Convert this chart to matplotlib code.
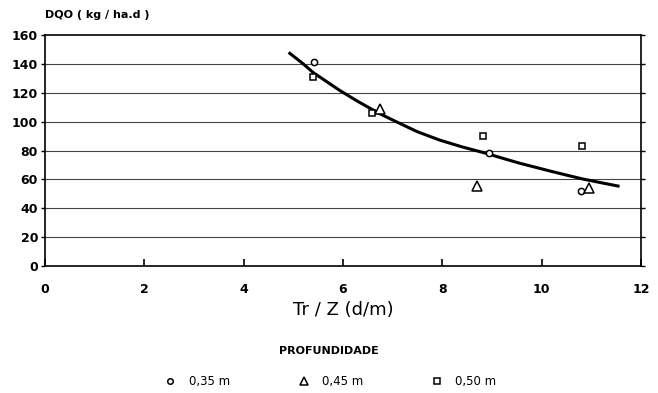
import matplotlib
matplotlib.use("Agg")
import matplotlib.pyplot as plt
from matplotlib.lines import Line2D

# Data
x_035 = [5.42, 8.94, 10.79]
y_035 = [141, 78, 52]
x_045 = [6.75, 8.70, 10.95]
y_045 = [109, 55.5, 54]
x_050 = [5.40, 6.58, 8.82, 10.81]
y_050 = [131, 106, 90, 83]

curve_x = [4.93, 5.20, 5.40, 5.94, 6.30, 6.74, 7.10, 7.50, 7.95, 8.40,
           8.89, 9.20, 9.56, 10.17, 10.50, 10.84, 11.20, 11.54]
curve_y = [147.3, 140.0, 134.0, 121.5, 114.0, 105.5, 99.5, 93.0, 87.2, 82.5,
           78.0, 74.8, 71.2, 65.8, 63.0, 60.2, 57.7, 55.4]

x_ticks = [0, 2, 4, 6, 8, 10, 12]
y_ticks = [0, 20, 40, 60, 80, 100, 120, 140, 160]
legend_labels = ["0,35 m", "0,45 m", "0,50 m"]

plt.rcParams['font.family'] = ['DejaVu Sans']

fig = plt.figure(figsize=(6.58, 3.93), dpi=100)
ax = fig.add_axes([0.0684, 0.323, 0.9056, 0.588])

for yv in y_ticks[1:-1]:
    ax.axhline(yv, color='#444444', lw=0.8, zorder=1)

ax.plot(curve_x, curve_y, color='black', lw=2.2, zorder=2,
        solid_joinstyle='round')

mk = dict(linestyle='none', markerfacecolor='white', markeredgecolor='black',
          markeredgewidth=1.1, zorder=3)
ax.plot(x_035, y_035, marker='o', markersize=4.5, **mk)
ax.plot(x_045, y_045, marker='^', markersize=7, **mk)
ax.plot(x_050, y_050, marker='s', markersize=4.5, **mk)

ax.set_xlim(0, 12)
ax.set_ylim(0, 160)
ax.set_xticks(x_ticks)
ax.set_yticks(y_ticks)
ax.set_xticklabels([str(v) for v in x_ticks], fontsize=9, fontweight='bold')
ax.set_yticklabels([str(v) for v in y_ticks], fontsize=9, fontweight='bold')
ax.tick_params(axis='x', direction='in', length=5, width=1.2, pad=12, top=False)
ax.tick_params(axis='y', direction='out', length=3, width=1.0, pad=2, right=True)
ax.tick_params(axis='y', which='both', labelright=False)
for s in ax.spines.values():
    s.set_linewidth(1.2)

ax.set_xlabel("Tr / Z (d/m)", fontsize=13, labelpad=4)
fig.text(0.068, 0.962, "DQO ( kg / ha.d )", fontsize=8, fontweight='bold',
         ha='left', va='center')
fig.text(0.5, 0.107, "PROFUNDIDADE", fontsize=8, fontweight='bold',
         ha='center', va='center')

handles = [
    Line2D([], [], marker='o', markersize=4, **mk),
    Line2D([], [], marker='^', markersize=6, **mk),
    Line2D([], [], marker='s', markersize=4, **mk),
]
fig.legend(handles, legend_labels, loc='center', bbox_to_anchor=(0.5, 0.03),
           ncol=3, frameon=False, fontsize=8.5, handlelength=1.5,
           columnspacing=5.5, handletextpad=0.8)

fig.savefig("out.png", dpi=100)
